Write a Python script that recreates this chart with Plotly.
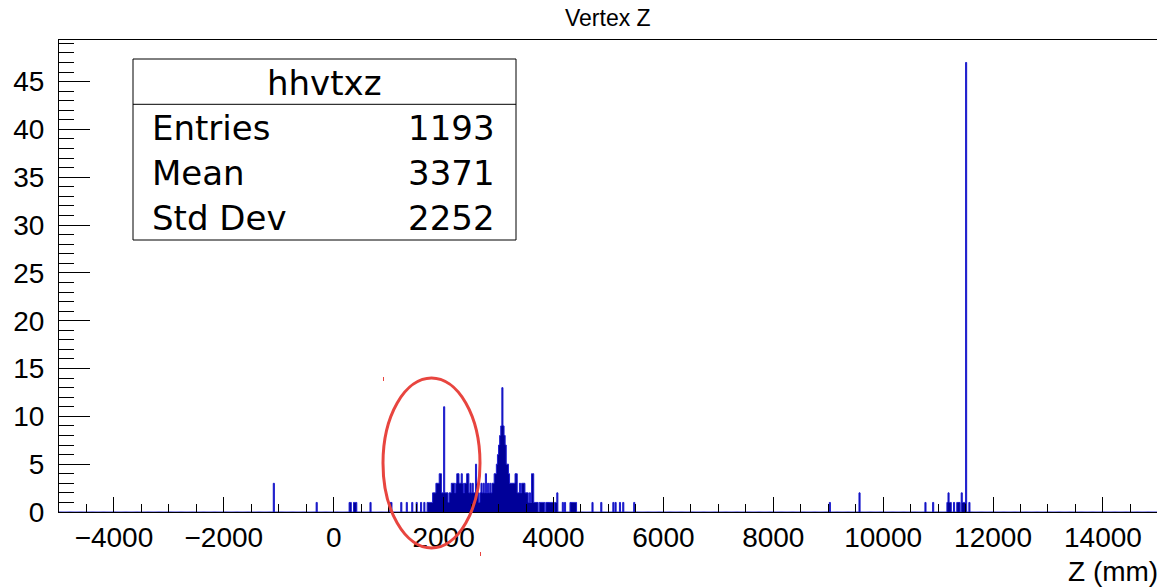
import numpy as np
import plotly.graph_objects as go

# ---------------- data ----------------
BIN_WIDTH = 20  # mm, histogram bin width
HIST_MIN, HIST_MAX = -5000, 15000  # mm, histogram range

# dense region: consecutive 20 mm bins starting at DENSE_START (mm)
DENSE_START = 1700
dense_counts = [
    1, 1, 1, 1, 1, 2, 2, 2, 3, 3, 3, 4, 4, 2, 2, 11, 2, 2, 2, 1,
    2, 2, 3, 3, 3, 2, 3, 4, 4, 3, 3, 4, 3, 2, 3, 3, 4, 4, 2, 3,
    2, 3, 2, 2, 5, 3, 2, 1, 2, 3, 2, 3, 2, 4, 2, 3, 2, 3, 2, 3,
    3, 4, 4,
    5, 6, 7, 8, 9, 13, 9, 8, 7, 5, 5, 4, 3, 3, 3, 3, 3, 4, 4, 2,
    2, 3, 2, 3, 3, 3, 2, 2, 2, 1, 2, 1, 4, 4, 1, 1,
    1, 1, 0, 1, 1, 1, 1, 1, 0, 1, 1, 1, 1, 1, 1, 1, 0, 1, 1, 2,
]

# isolated bins: lower bin edge (mm) and count
sparse_edges = [-1100, -320, 280, 300, 360, 380, 400, 660, 1020, 1040,
                1220, 1320, 1420, 1500, 1580, 1640,
                4160, 4200, 4300, 4320, 4340, 4360, 4380, 4400, 4700, 4860,
                5080, 5120, 5200, 5260, 5460,
                9020, 9560, 10760, 10900, 11160, 11180, 11200, 11220, 11280,
                11340, 11360, 11380, 11420, 11440, 11460, 11480, 11500, 11560]
sparse_counts = [3, 1, 1, 1, 1, 1, 1, 1, 1, 1,
                 1, 1, 1, 1, 1, 1,
                 1, 1, 1, 1, 1, 1, 1, 1, 1, 1,
                 1, 1, 1, 1, 1,
                 1, 2, 1, 1, 1, 2, 1, 1, 1,
                 1, 1, 1, 2, 1, 1, 1, 47, 1]

hist_name = "hhvtxz"
stat_labels = ["Entries", "Mean", "Std Dev"]
stat_values = ["1193", "3371", "2252"]

title_text = "Vertex Z"
x_title = "Z (mm)"

# ---------------- build full binned histogram ----------------
nbins = (HIST_MAX - HIST_MIN) // BIN_WIDTH
full = np.zeros(nbins)
dense_edges = [DENSE_START + i * BIN_WIDTH for i in range(len(dense_counts))]
for e, c in zip(dense_edges + sparse_edges, dense_counts + sparse_counts):
    full[(e - HIST_MIN) // BIN_WIDTH] = c
bin_edges = HIST_MIN + BIN_WIDTH * np.arange(nbins + 1)
step_y = np.append(full, full[-1])

# ---------------- geometry helpers ----------------
W, H = 1157, 588
ML, MR, MT, MB = 59, 0, 40, 76
PW, PH = W - ML - MR, H - MT - MB


def px(x):
    return (x - ML) / PW


def py(y):
    return (H - MB - y) / PH


FONT = "Liberation Sans, Arial, Helvetica, sans-serif"
STATFONT = "DejaVu Sans, Liberation Sans, sans-serif"

fig = go.Figure()
fig.add_trace(go.Scatter(
    x=bin_edges, y=step_y, mode="lines", line_shape="hv",
    line=dict(color="#1c1cd0", width=1),
    fill="tozeroy", fillcolor="#000099",
    showlegend=False, hoverinfo="x+y",
))

fig.update_layout(
    width=W, height=H,
    margin=dict(l=ML, r=MR, t=MT, b=MB, pad=0),
    paper_bgcolor="white", plot_bgcolor="white",
    font=dict(family=FONT, color="black"),
)

x_lo = HIST_MIN
x_hi = x_lo + PW / 0.054944
fig.update_xaxes(
    range=[x_lo, x_hi], showgrid=False, zeroline=False,
    showline=True, linecolor="black", linewidth=1, mirror=True,
    ticks="inside", ticklen=15, tickwidth=1, tickcolor="black",
    tick0=0, dtick=2000, tickformat="d",
    minor=dict(ticks="inside", ticklen=8, tickwidth=1, tickcolor="black", dtick=500, tick0=0, showgrid=False),
    tickfont=dict(size=28, family=FONT, color="black"),
    ticklabelstandoff=0,
)
fig.update_yaxes(
    range=[0, 49.35], showgrid=False, zeroline=False,
    showline=True, linecolor="black", linewidth=1, mirror=False,
    ticks="inside", ticklen=31, tickwidth=1, tickcolor="black",
    tick0=0, dtick=5,
    minor=dict(ticks="inside", ticklen=15, tickwidth=1, tickcolor="black", dtick=1, tick0=0, showgrid=False),
    tickfont=dict(size=28, family=FONT, color="black"),
    ticklabelstandoff=8,
)

shapes = []
# stats box
shapes.append(dict(type="rect", xref="paper", yref="paper",
                   x0=px(133), x1=px(516), y0=py(240), y1=py(59),
                   line=dict(color="black", width=1), fillcolor="white", layer="above"))
shapes.append(dict(type="line", xref="paper", yref="paper",
                   x0=px(133), x1=px(516), y0=py(104.3), y1=py(104.3),
                   line=dict(color="black", width=1), layer="above"))
# red ellipse annotation
shapes.append(dict(type="circle", xref="paper", yref="paper",
                   x0=px(383), x1=px(480), y0=py(548), y1=py(378),
                   line=dict(color="#e8453f", width=3), layer="above"))
shapes.append(dict(type="line", xref="paper", yref="paper",
                   x0=px(383.5), x1=px(383.5), y0=py(381), y1=py(377),
                   line=dict(color="#e8453f", width=1), layer="above"))
shapes.append(dict(type="line", xref="paper", yref="paper",
                   x0=px(480.5), x1=px(480.5), y0=py(556), y1=py(552),
                   line=dict(color="#e8453f", width=1), layer="above"))
fig.update_layout(shapes=shapes)

ann = []
ann.append(dict(text=title_text, xref="paper", yref="paper", x=0.5, y=py(18),
                xanchor="center", yanchor="middle", showarrow=False,
                font=dict(size=23, family=FONT, color="black")))
ann.append(dict(text=x_title, xref="paper", yref="paper", x=px(1066), y=py(571),
                xanchor="left", yanchor="middle", showarrow=False,
                font=dict(size=28, family=FONT, color="black")))
ann.append(dict(text=hist_name, xref="paper", yref="paper", x=px(324.5), y=py(83),
                xanchor="center", yanchor="middle", showarrow=False,
                font=dict(size=34, family=STATFONT, color="black")))
row_y = [128, 173, 218]
for lab, val, yy in zip(stat_labels, stat_values, row_y):
    ann.append(dict(text=lab, xref="paper", yref="paper", x=px(150), y=py(yy),
                    xanchor="left", yanchor="middle", showarrow=False,
                    font=dict(size=34, family=STATFONT, color="black")))
    ann.append(dict(text=val, xref="paper", yref="paper", x=px(497), y=py(yy),
                    xanchor="right", yanchor="middle", showarrow=False,
                    font=dict(size=34, family=STATFONT, color="black")))
fig.update_layout(annotations=ann)

fig.write_html("out.html")
